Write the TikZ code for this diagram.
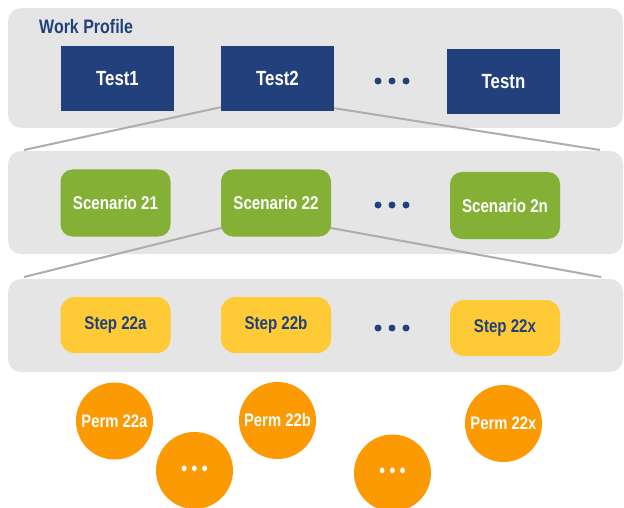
\documentclass[tikz,border=0pt]{standalone}
\usepackage{fontspec}
\setmainfont{Liberation Sans}[FakeStretch=0.82]
\usetikzlibrary{backgrounds}
\definecolor{navy}{HTML}{21407C}
\definecolor{leaf}{HTML}{84B036}
\definecolor{sun}{HTML}{FECB36}
\definecolor{amber}{HTML}{FC9A03}
\definecolor{panelgray}{HTML}{E5E5E5}
\definecolor{linkgray}{HTML}{ADADAD}
\tikzset{
  panel/.style={fill=panelgray, draw=none, rounded corners=13pt, inner sep=0pt},
  testbox/.style={fill=navy, draw=none, minimum width=113pt, minimum height=65pt, inner sep=0pt,
    text=white, font=\fontsize{20.5}{20.5}\selectfont\bfseries},
  scenbox/.style={fill=leaf, draw=none, rounded corners=12pt, minimum width=110pt, minimum height=67pt,
    inner sep=0pt, text=white, font=\fontsize{18.5}{18.5}\selectfont\bfseries},
  stepbox/.style={fill=sun, draw=none, rounded corners=14pt, minimum width=110pt, minimum height=56pt,
    inner sep=0pt, text=navy, font=\fontsize{18.4}{18.4}\selectfont\bfseries},
  permcircle/.style={circle, fill=amber, draw=none, minimum size=77pt, inner sep=0pt,
    text=white, font=\fontsize{18.1}{18.1}\selectfont\bfseries},
  link/.style={draw=linkgray, line width=2pt},
  bluedot/.style={circle, fill=navy, draw=none, minimum size=7pt, inner sep=0pt},
}
\begin{document}
\begin{tikzpicture}[x=1pt, y=-1pt]
\useasboundingbox (0,0) rectangle (624,508);
% boxes
\node[testbox] (t1) at (117.5,78.5) {Test1};
\node[testbox] (t2) at (277.5,78.5) {Test2};
\node[testbox] (tn) at (503.5,81.5) {Testn};
\node[bluedot] (da1) at (378,81) {};
\node[bluedot] (da2) at (392,81) {};
\node[bluedot] (da3) at (406,81) {};
\node[anchor=west, inner sep=0pt, text=navy, font=\fontsize{19.5}{19.5}\selectfont\bfseries] (wp) at (39,27) {Work Profile};

\node[scenbox] (s21) at (115.5,203) {Scenario 21};
\node[scenbox] (s22) at (276,203) {Scenario 22};
\node[scenbox] (s2n) at (505,205.5) {Scenario 2n};
\node[bluedot] (db1) at (378,205) {};
\node[bluedot] (db2) at (392,205) {};
\node[bluedot] (db3) at (406,205) {};

\node[stepbox] (st1) at (115.5,325) {Step 22a};
\node[stepbox] (st2) at (276,325) {Step 22b};
\node[stepbox] (stx) at (505,328) {Step 22x};
\node[bluedot] (dc1) at (378,328) {};
\node[bluedot] (dc2) at (392,328) {};
\node[bluedot] (dc3) at (406,328) {};

\node[permcircle] (p1) at (114.5,421) {Perm 22a};
\node[permcircle] (p2) at (277.5,420.5) {Perm 22b};
\node[permcircle] (px) at (503.5,423.5) {Perm 22x};
\node[permcircle, font=\fontsize{20}{20}\selectfont\bfseries] (pd1) at (194.5,470.5) {• • •};
\node[permcircle, font=\fontsize{20}{20}\selectfont\bfseries] (pd2) at (392.5,473) {• • •};

\coordinate (l1a) at (24,150);
\coordinate (l1b) at (600,150);
\coordinate (l2a) at (24,277);
\coordinate (l2b) at (601,277);

\begin{scope}[on background layer]
  \fill[panelgray, rounded corners=13pt] (8,8) rectangle (623,128);
  \fill[panelgray, rounded corners=13pt] (8,151) rectangle (623,254);
  \fill[panelgray, rounded corners=13pt] (8,279) rectangle (623,372);
  \draw[link] ([yshift=4pt]t2.south west) -- (l1a);
  \draw[link] ([yshift=3pt]t2.south east) -- (l1b);
  \draw[link] ([xshift=2pt,yshift=9pt]s22.south west) -- (l2a);
  \draw[link] ([xshift=-2pt,yshift=9pt]s22.south east) -- (l2b);
\end{scope}
\end{tikzpicture}
\end{document}
